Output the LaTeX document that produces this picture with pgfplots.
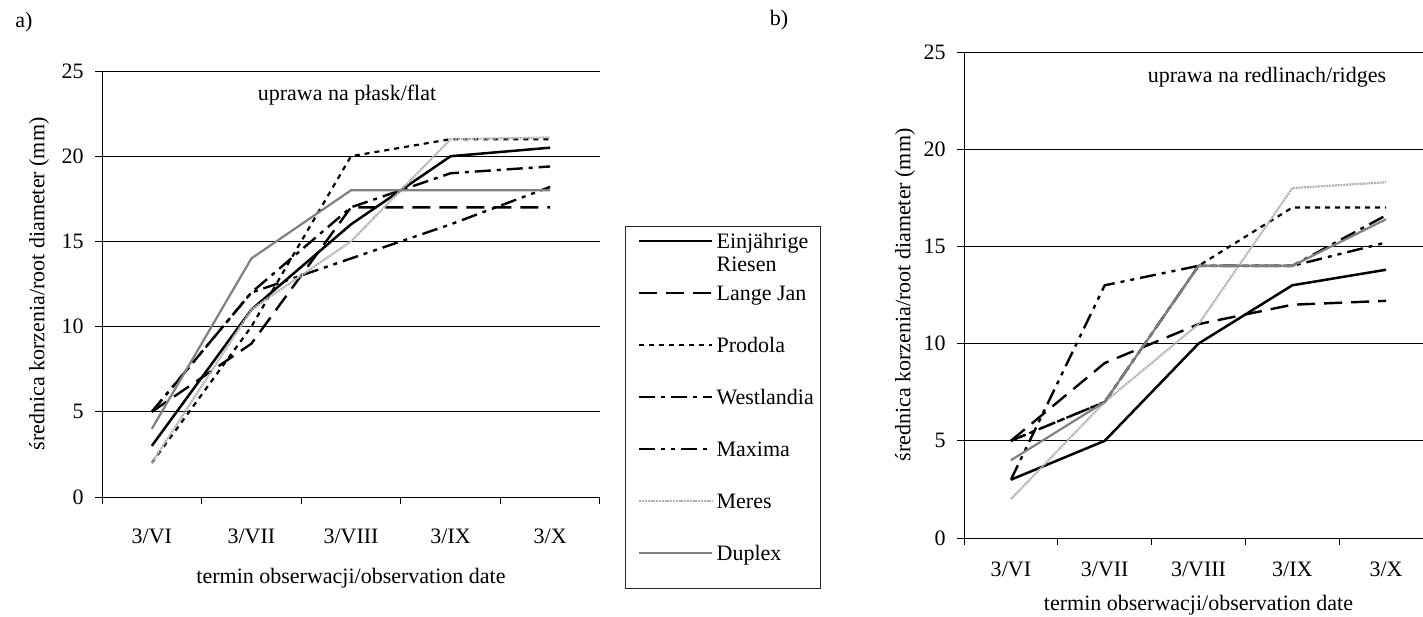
\documentclass[border=0pt]{standalone}
\usepackage{fontspec}
\setmainfont{Liberation Serif}
\usepackage{pgfplots}
\pgfplotsset{compat=1.18}

\newcommand\lt[1]{\makebox[52pt][l]{\strut #1}}

\pgfplotsset{
  myaxis/.style={
    scale only axis,
    xmin=-0.5, xmax=4.5, ymin=0, ymax=25,
    axis x line*=bottom, axis y line*=left,
    axis line style={line width=0.5pt, black},
    ytick={0,5,...,25},
    ymajorgrids, major grid style={line width=0.5pt, black},
    xtick={0,...,4},
    xticklabels={3/VI,3/VII,3/VIII,3/IX,3/X},
    minor xtick={-0.5,0.5,...,4.5},
    major x tick style={draw=none},
    minor x tick style={draw=black, line width=0.5pt},
    ytick style={draw=black, line width=0.5pt},
    tick align=outside,
    major tick length=3.5pt, minor tick length=3.5pt,
    /pgf/number format/assume math mode=true,
    tick label style={font=\fontsize{11}{13}\selectfont},
    label style={font=\fontsize{11}{13}\selectfont},
    yticklabel style={anchor=east, inner sep=0pt, xshift=-5.5pt},
    ylabel={średnica korzenia/root diameter (mm)},
    xlabel={termin obserwacji/observation date},
    legend image code/.code={\path[draw=none,fill=none] (0pt,0pt) rectangle (43.5pt,0.1pt); \draw[##1, line width=1.25pt] (7pt,3.8pt) -- (43.5pt,3.8pt);},
  },
  s1/.style={black, line width=1.25pt},
  s2/.style={black, line width=1.2pt, dash pattern=on 9pt off 4.5pt},
  s3/.style={black, line width=1.1pt, dash pattern=on 2.5pt off 2.5pt},
  s4/.style={black, line width=1.2pt, dash pattern=on 8pt off 3pt on 2pt off 3pt},
  s5/.style={black, line width=1.2pt, dash pattern=on 8pt off 3pt on 2pt off 3pt on 2pt off 3pt},
  s6/.style={color={rgb,255:red,178;green,178;blue,178}, line width=1.1pt, dash pattern=on 1pt off 0.4pt},
  s7/.style={color={rgb,255:red,128;green,128;blue,128}, line width=1.1pt},
}

\begin{document}
\begin{tikzpicture}[font=\fontsize{11}{13}\selectfont]
\useasboundingbox (0pt,0pt) rectangle (711.5pt,-308pt);
\node at (12pt,-11pt) {a)};
\node at (389.5pt,-10pt) {b)};

% left: flat
\begin{axis}[myaxis,
  at={(51pt,-248.5pt)}, anchor=south west,
  width=249pt, height=213pt,
  xticklabel style={anchor=base, yshift=-19.5pt},
  xlabel style={at={(axis description cs:0.5,-0.19)}, anchor=center},
  ylabel style={at={(axis description cs:-0.1265,0.5)}, anchor=center},
  legend style={at={(1.0502,0.6362)}, anchor=north west, draw=black!85,
    fill=white, inner xsep=0pt, inner ysep=2pt, row sep=13pt, column sep=1.5pt,
    nodes={inner sep=0pt, text depth=}, cells={anchor=base west},
    font=\fontsize{11}{13}\selectfont},
]
\addplot[s1] coordinates {(0,3) (1,11) (2,16) (3,20) (4,20.5)};
\addlegendentry{\lt{\smash{\parbox[t]{52pt}{\fontsize{11}{11.5}\selectfont Einjährige\\Riesen}}}}
\addplot[s2] coordinates {(0,5) (1,9) (2,17) (3,17) (4,17)};
\addlegendentry{\lt{Lange Jan}}
\addplot[s3] coordinates {(0,2) (1,10) (2,20) (3,21) (4,21)};
\addlegendentry{\lt{Prodola}}
\addplot[s4] coordinates {(0,5) (1,12) (2,17) (3,19) (4,19.4)};
\addlegendentry{\lt{Westlandia}}
\addplot[s5] coordinates {(0,5) (1,12) (2,14) (3,16) (4,18.2)};
\addlegendentry{\lt{Maxima}}
\addplot[s6] coordinates {(0,2) (1,11) (2,15) (3,21) (4,21.1)};
\addlegendentry{\lt{Meres}}
\addplot[s7] coordinates {(0,4) (1,14) (2,18) (3,18) (4,18)};
\addlegendentry{\lt{Duplex\rule[-12pt]{0pt}{1pt}}}
\node at (axis description cs:0.492,0.944) {uprawa na płask/flat};
\end{axis}

% right: ridges
\begin{axis}[myaxis,
  at={(482pt,-269pt)}, anchor=south west,
  width=234.5pt, height=243pt,
  xticklabel style={anchor=base, yshift=-15.75pt},
  xlabel style={at={(axis description cs:0.5,-0.138)}, anchor=center},
  ylabel style={at={(axis description cs:-0.1258,0.5)}, anchor=center},
]
\addplot[s1] coordinates {(0,3) (1,5) (2,10) (3,13) (4,13.8)};
\addplot[s2] coordinates {(0,5) (1,9) (2,11) (3,12) (4,12.2)};
\addplot[s3] coordinates {(0,5) (1,7) (2,14) (3,17) (4,17)};
\addplot[s4] coordinates {(0,5) (1,7) (2,14) (3,14) (4,16.6)};
\addplot[s5] coordinates {(0,3) (1,13) (2,14) (3,14) (4,15.2)};
\addplot[s6] coordinates {(0,2) (1,7) (2,11) (3,18) (4,18.3)};
\addplot[s7] coordinates {(0,4) (1,7) (2,14) (3,14) (4,16.4)};
\node at (axis description cs:0.646,0.9486) {uprawa na redlinach/ridges};
\end{axis}
\end{tikzpicture}
\end{document}
